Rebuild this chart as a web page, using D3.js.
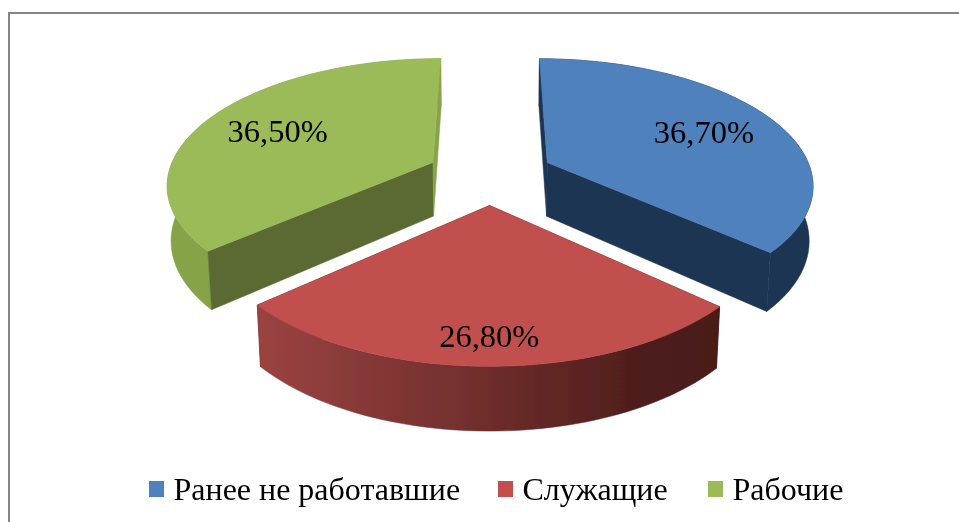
<!DOCTYPE html>
<html lang="ru">
<head>
    <meta charset="UTF-8">
    <title>d3</title>
    <script src="https://d3js.org/d3.v7.min.js"></script>
    <style>
        html, body { margin: 0; padding: 0; background: #fff; overflow: hidden; }
        text { font-family: "Liberation Serif", serif; fill: #000; }
    </style>
</head>
<body>
    <div class="canvas"></div>
    <script>
      const categories = ['Ранее не работавшие', 'Служащие', 'Рабочие'];
      const values = [36.7, 26.8, 36.5];
      const valueLabels = ['36,70%', '26,80%', '36,50%'];

      const topColors = ['#4f81bd', '#c0504d', '#9bbb59'];
      const startWallColors = ['#1f3552', '#4f1e1c', '#5a6b30'];
      const endWallColors = ['#1f3552', '#4f1e1c', '#87a346'];
      const outerColors = ['#1f3552', 'url(#redSide)', '#87a346'];

      const width = 959;
      const height = 522;

      // perspective of the disc, fitted by eye on the reference
      const cx = 490, cy = 174.5;
      const rx = 265, ry = 124;
      const depth = 55;
      const persp = 0.16, perspZ = 0.012;
      const explode = 0.24;
      const labelRadius = [0.69, 0.83, 0.7];

      const project = (x, y, z) => {
        const w = 1 + persp * y + perspZ * z;
        return [cx + rx * x / w, cy + (depth * z - ry * y) / w];
      };

      const svg = d3.select('.canvas')
                      .append('svg')
                      .attr('width', width)
                      .attr('height', height)
                      .style('display', 'block');

      const defs = svg.append('defs');
      const grad = defs.append('linearGradient')
                        .attr('id', 'redSide')
                        .attr('gradientUnits', 'userSpaceOnUse')
                        .attr('x1', 259).attr('x2', 719)
                        .attr('y1', 0).attr('y2', 0);
      grad.append('stop').attr('offset', '0%').attr('stop-color', '#9a4341');
      grad.append('stop').attr('offset', '50%').attr('stop-color', '#6e2d2b');
      grad.append('stop').attr('offset', '82%').attr('stop-color', '#4f1e1c');
      grad.append('stop').attr('offset', '100%').attr('stop-color', '#4a1b19');

      // the reference is a soft screenshot
      defs.append('filter').attr('id', 'soft')
          .attr('x', 0).attr('y', 0).attr('width', '100%').attr('height', '100%')
          .append('feGaussianBlur').attr('stdDeviation', 0.4);

      const root = svg.append('g').attr('filter', 'url(#soft)');
      root.append('rect').attr('width', width).attr('height', height).attr('fill', '#fff');

      // frame
      root.append('path')
          .attr('d', `M9,${height}V13H${width}`)
          .attr('fill', 'none')
          .attr('stroke', '#868686')
          .attr('stroke-width', 2);

      const arcs = d3.pie().sort(null)(values);
      const line = d3.line();

      const slices = arcs.map((a, i) => {
        const mid = (a.startAngle + a.endAngle) / 2;
        const ox = explode * Math.sin(mid);
        const oy = explode * Math.cos(mid);
        const rim = d3.range(0, 61).map(k => {
          const t = a.startAngle + (a.endAngle - a.startAngle) * k / 60;
          return [ox + Math.sin(t), oy + Math.cos(t)];
        });
        return { i, mid, ox, oy, rim };
      });

      const g = root.append('g');
      const face = (pts, fill) => g.append('path')
                                    .attr('d', line(pts) + 'Z')
                                    .attr('fill', fill)
                                    .attr('stroke', fill)
                                    .attr('stroke-width', 0.5);

      // back slices first, the front one last
      [0, 2, 1].forEach(idx => {
        const s = slices[idx];
        const apexTop = project(s.ox, s.oy, 0);
        const apexLow = project(s.ox, s.oy, 1);
        const wall = p => [apexTop, project(p[0], p[1], 0), project(p[0], p[1], 1), apexLow];
        const outer = s.rim.map(p => project(p[0], p[1], 0))
                        .concat(s.rim.slice().reverse().map(p => project(p[0], p[1], 1)));
        const walls = () => {
          face(wall(s.rim[0]), startWallColors[idx]);
          face(wall(s.rim[s.rim.length - 1]), endWallColors[idx]);
        };

        // the radial walls of the back slices face the viewer, the front slice's do not
        if (idx === 1) walls();
        face(outer, outerColors[idx]);
        if (idx !== 1) walls();

        face([apexTop].concat(s.rim.map(p => project(p[0], p[1], 0))), topColors[idx]);
      });

      // value labels
      slices.forEach(s => {
        const r = labelRadius[s.i];
        const p = project(s.ox + r * Math.sin(s.mid), s.oy + r * Math.cos(s.mid), 0);
        root.append('text')
            .attr('x', p[0] + 1.5)
            .attr('y', p[1] + 1)
            .attr('dy', '0.35em')
            .attr('text-anchor', 'middle')
            .attr('font-size', 32.5)
            .text(valueLabels[s.i]);
      });

      // legend
      const legendX = d3.scaleOrdinal().domain(categories).range([149, 498, 708]);
      const legend = root.selectAll('g.legend').data(categories).enter()
                          .append('g')
                          .attr('class', 'legend')
                          .attr('transform', d => `translate(${legendX(d)}, 0)`);
      legend.append('rect')
            .attr('y', 481)
            .attr('width', 15)
            .attr('height', 16)
            .attr('fill', (d, i) => topColors[i]);
      legend.append('text')
            .attr('x', 24.5)
            .attr('y', 500)
            .attr('font-size', 32)
            .text(d => d);
    </script>
</body>
</html>
